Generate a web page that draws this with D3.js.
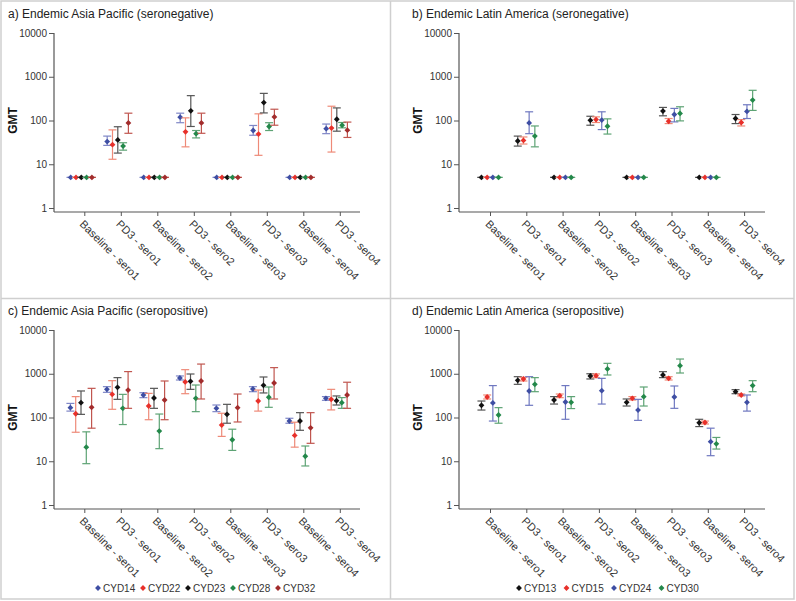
<!DOCTYPE html>
<html><head><meta charset="utf-8">
<script src="https://cdn.jsdelivr.net/npm/d3@7"></script>
<style>
html,body{margin:0;padding:0;background:#fff;}
svg{display:block;font-family:"Liberation Sans",Arial,Helvetica,sans-serif;}
</style></head>
<body><svg id="chart" width="796" height="601"></svg>
<script>
// ---------- DATA ----------
const categories = ["Baseline - sero1","PD3 - sero1","Baseline - sero2","PD3 - sero2","Baseline - sero3","PD3 - sero3","Baseline - sero4","PD3 - sero4"];
const yTickValues = [1, 10, 100, 1000, 10000];
const seriesAP = ["CYD14","CYD22","CYD23","CYD28","CYD32"];
const seriesLA = ["CYD13","CYD15","CYD24","CYD30"];

// a) Endemic Asia Pacific (seronegative) — rows follow seriesAP
const aGMT  = [[5,33,5,119,5,59,5,65],[5,28,5,55,5,49,5,67],[5,36,5,166,5,257,5,107],[5,26,5,50,5,73,5,78],[5,88,5,88,5,121,5,60]];
const aLow  = [[5,27,5,89,5,46,5,50],[5,13,5,25,5,16,5,19],[5,18,5,73,5,149,5,57],[5,21,5,40,5,59,5,68],[5,51,5,51,5,78,5,41]];
const aHigh = [[5,44,5,147,5,77,5,83],[5,61,5,115,5,142,5,212],[5,72,5,370,5,417,5,194],[5,31,5,59,5,89,5,90],[5,147,5,147,5,181,5,92]];

// b) Endemic Latin America (seronegative) — rows follow seriesLA
const bGMT  = [[5,34,5,101,5,164,5,111],[5,35,5,105,5,96,5,90],[5,88,5,102,5,137,5,161],[5,44,5,74,5,145,5,293]];
const bLow  = [[5,26,5,78,5,128,5,85],[5,29,5,90,5,85,5,75],[5,50,5,62,5,93,5,111],[5,25,5,49,5,98,5,170]];
const bHigh = [[5,44,5,125,5,199,5,137],[5,42,5,121,5,111,5,105],[5,158,5,158,5,189,5,229],[5,75,5,109,5,206,5,490]];

// c) Endemic Asia Pacific (seropositive) — rows follow seriesAP
const cGMT  = [[168,440,327,800,162,448,83,274],[122,338,183,650,67,238,39,260],[218,490,279,671,118,543,83,243],[21,162,49,274,31,290,13,218],[171,424,251,683,168,615,58,327]];
const cLow  = [[140,376,284,720,136,389,74,247],[46,154,89,350,37,140,21,149],[118,260,162,440,74,364,51,193],[8.8,69,19.4,136,17.7,171,7.8,162],[57,162,89,265,79,265,25.7,162]];
const cHigh = [[210,507,369,890,193,507,96,300],[300,695,356,1240,125,424,78,440],[404,815,464,987,200,843,129,311],[47,338,120,553,54,498,22.3,285],[464,1120,683,1665,344,1380,129,640]];

// d) Endemic Latin America (seropositive) — rows follow seriesLA
const dGMT  = [[190,707,251,890,222,937,76,390],[294,759,315,904,274,785,77,327],[215,404,226,410,148,294,28,222],[114,573,222,1290,300,1530,25,536]];
const dLow  = [[148,573,203,760,183,815,62,350],[265,683,284,815,251,720,71,311],[83,190,91,203,86,162,13.4,140],[74,389,160,937,183,1040,19,389]];
const dHigh = [[238,857,300,1000,265,1116,91,433],[327,828,344,990,300,857,83,344],[536,857,536,785,260,525,57,327],[168,815,300,1730,498,2170,35,695]];

// ---------- STYLE ----------
const pointColor = {CYD14:"#3e4ea3",CYD22:"#e8302a",CYD23:"#111111",CYD28:"#23884a",CYD32:"#a22c2c",
                    CYD13:"#111111",CYD15:"#e8302a",CYD24:"#3e4ea3",CYD30:"#23884a"};
const barColor   = {CYD14:"#7f86c6",CYD22:"#ee8a78",CYD23:"#555555",CYD28:"#5da374",CYD32:"#c0564f",
                    CYD13:"#555555",CYD15:"#ee8a78",CYD24:"#6f78c0",CYD30:"#5da374"};

const panels = [
  {title:"a) Endemic Asia Pacific (seronegative)", series:seriesAP, gmt:aGMT, lo:aLow, hi:aHigh,
   tx:8, ty:18, ax:54, yTop:33, yBot:208, axisY:212, first:84.3, step:36.5, dodge:5.3, shift:-3, legend:null},
  {title:"b) Endemic Latin America (seronegative)", series:seriesLA, gmt:bGMT, lo:bLow, hi:bHigh,
   tx:412, ty:18, ax:459, yTop:33, yBot:208, axisY:212, first:490, step:36.3, dodge:5.7, shift:0, legend:null},
  {title:"c) Endemic Asia Pacific (seropositive)", series:seriesAP, gmt:cGMT, lo:cLow, hi:cHigh,
   tx:8, ty:315, ax:54, yTop:330, yBot:505, axisY:509, first:84.3, step:36.5, dodge:5.3, shift:-3.3,
   legend:{x:98, y:588, sp:45}},
  {title:"d) Endemic Latin America (seropositive)", series:seriesLA, gmt:dGMT, lo:dLow, hi:dHigh,
   tx:412, ty:315, ax:459, yTop:330, yBot:505, axisY:509, first:490, step:36.3, dodge:5.7, shift:0,
   legend:{x:519, y:588, sp:47.5}}
];

const svg = d3.select("#chart");
const frameColor = "#cfcfcf";
// frame
svg.append("rect").attr("x",1).attr("y",1).attr("width",793).attr("height",598)
  .attr("fill","none").attr("stroke",frameColor).attr("stroke-width",1.5);
svg.append("line").attr("x1",390.5).attr("x2",390.5).attr("y1",1).attr("y2",599)
  .attr("stroke",frameColor).attr("stroke-width",1.5);
svg.append("line").attr("x1",1).attr("x2",794).attr("y1",298.5).attr("y2",298.5)
  .attr("stroke",frameColor).attr("stroke-width",1.5);

const diamond = d3.symbol().type(d3.symbolSquare).size(17);

panels.forEach(p => {
  const g = svg.append("g");
  const y = d3.scaleLog().domain([1,10000]).range([p.yBot, p.yTop]);
  const x = d3.scalePoint().domain(categories).range([p.first, p.first + p.step*(categories.length-1)]);
  const n = p.series.length;
  const off = i => (i - (n-1)/2) * p.dodge + p.shift;
  const xEnd = p.ax + 306;

  // title
  g.append("text").attr("x",p.tx).attr("y",p.ty).attr("font-size",12).attr("fill","#222").text(p.title);

  // y axis
  const ya = g.append("g").attr("transform",`translate(${p.ax},0)`)
    .call(d3.axisLeft(y).tickValues(yTickValues).tickFormat(d3.format("d")).tickSize(5).tickPadding(2));
  ya.select(".domain").remove();
  ya.selectAll(".tick line").attr("stroke","#555");
  ya.selectAll(".tick text").attr("font-size",10).attr("fill","#333").attr("font-family",null);
  g.append("line").attr("x1",p.ax).attr("x2",p.ax).attr("y1",p.yTop).attr("y2",p.axisY)
    .attr("stroke","#555").attr("stroke-width",1.2);

  // x axis
  const xa = g.append("g").attr("transform",`translate(0,${p.axisY})`)
    .call(d3.axisBottom(x).tickSize(4).tickSizeOuter(0));
  xa.select(".domain").remove();
  xa.selectAll(".tick line").attr("stroke","#555");
  xa.selectAll(".tick text").attr("font-size",11).attr("fill","#333").attr("font-family",null)
    .attr("text-anchor","start").attr("y",0).attr("dy","0.35em")
    .attr("transform","translate(-3,10) rotate(45)");
  g.append("line").attr("x1",p.ax).attr("x2",xEnd).attr("y1",p.axisY).attr("y2",p.axisY)
    .attr("stroke","#555").attr("stroke-width",1.2);

  // GMT label
  g.append("text").attr("transform",`translate(${p.ax-41},${(p.yTop+p.yBot)/2}) rotate(-90)`)
    .attr("text-anchor","middle").attr("dy","0.35em").attr("font-size",12).attr("font-weight","bold")
    .attr("fill","#111").text("GMT");

  // error bars + points
  p.series.forEach((s, i) => {
    const sg = g.append("g");
    const rows = categories.map((c, j) => ({c, v:p.gmt[i][j], lo:p.lo[i][j], hi:p.hi[i][j]}));
    const cx = d => x(d.c) + off(i);
    sg.selectAll("line.v").data(rows).join("line").attr("class","v")
      .attr("x1",cx).attr("x2",cx).attr("y1",d=>y(d.lo)).attr("y2",d=>y(d.hi))
      .attr("stroke",barColor[s]).attr("stroke-width",1.2);
    sg.selectAll("line.cl").data(rows).join("line").attr("class","cl")
      .attr("x1",d=>cx(d)-4).attr("x2",d=>cx(d)+4).attr("y1",d=>y(d.lo)).attr("y2",d=>y(d.lo))
      .attr("stroke",barColor[s]).attr("stroke-width",1.2);
    sg.selectAll("line.ch").data(rows).join("line").attr("class","ch")
      .attr("x1",d=>cx(d)-4).attr("x2",d=>cx(d)+4).attr("y1",d=>y(d.hi)).attr("y2",d=>y(d.hi))
      .attr("stroke",barColor[s]).attr("stroke-width",1.2);
    sg.selectAll("path.pt").data(rows).join("path").attr("class","pt")
      .attr("d",diamond).attr("transform",d=>`translate(${cx(d)},${y(d.v)}) rotate(45)`)
      .attr("fill",pointColor[s]);
  });

  // legend
  if (p.legend) {
    const lg = g.append("g");
    p.series.forEach((s, i) => {
      const lx = p.legend.x + i*p.legend.sp;
      lg.append("path").attr("d",diamond).attr("transform",`translate(${lx},${p.legend.y}) rotate(45)`)
        .attr("fill",pointColor[s]);
      lg.append("text").attr("x",lx+5).attr("y",p.legend.y).attr("dy","0.35em")
        .attr("font-size",10).attr("fill","#333").text(s);
    });
  }
});
</script></body></html>
